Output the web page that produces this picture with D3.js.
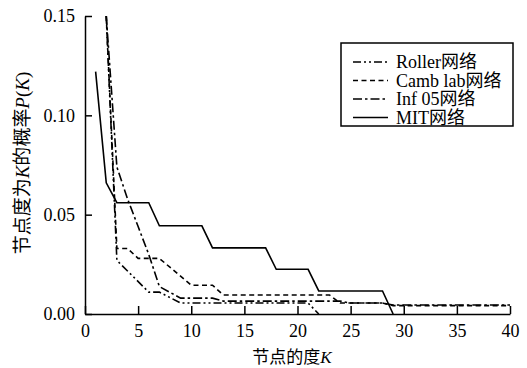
<!DOCTYPE html>
<html>
<head>
<meta charset="utf-8">
<script src="https://cdn.jsdelivr.net/npm/d3@7"></script>
<style>
  body { margin: 0; background: #fff; }
  svg { display: block; }
  text { font-family: 'Liberation Serif', 'Noto Sans CJK SC', serif; fill: #000; }
</style>
</head>
<body>
<div id="chart"></div>
<script>
// degree K and probability P(K) per network
const rollerK = [2, 3, 6, 7, 9, 21, 22];
const rollerP = [0.15, 0.027, 0.011, 0.011, 0.0055, 0.0055, 0];

const cambK = [2, 3, 4, 5, 7, 10, 12, 13, 23, 24, 28, 29, 40];
const cambP = [0.15, 0.033, 0.033, 0.028, 0.028, 0.0145, 0.0145, 0.0096, 0.0096, 0.0055, 0.0055, 0.0042, 0.0042];

const infK = [2, 3, 4, 5, 6, 7, 9, 12, 13, 24, 25, 28, 29, 40];
const infP = [0.15, 0.074, 0.058, 0.044, 0.03, 0.0138, 0.008, 0.008, 0.0065, 0.0065, 0.0055, 0.0055, 0.0045, 0.0045];

const mitK = [1, 2, 3, 6, 7, 11, 12, 17, 18, 21, 22, 28, 29];
const mitP = [0.122, 0.066, 0.056, 0.056, 0.0444, 0.0444, 0.0333, 0.0333, 0.0225, 0.0225, 0.0116, 0.0116, 0];

const seriesNames = ['Roller网络', 'Camb lab网络', 'Inf 05网络', 'MIT网络'];
const xTicks = [0, 5, 10, 15, 20, 25, 30, 35, 40];
const yTicks = [0, 0.05, 0.10, 0.15];

const width = 527, height = 368;
const margin = { left: 85, right: 17, top: 16, bottom: 54 };

const series = [
  { name: seriesNames[0], k: rollerK, p: rollerP, dash: '8,3,2,3,2,3' },
  { name: seriesNames[1], k: cambK, p: cambP, dash: '5,3.5' },
  { name: seriesNames[2], k: infK, p: infP, dash: '9,3,2.5,3' },
  { name: seriesNames[3], k: mitK, p: mitP, dash: null }
];

const x = d3.scaleLinear().domain([0, 40]).range([margin.left, width - margin.right]);
const y = d3.scaleLinear().domain([0, 0.15]).range([height - margin.bottom, margin.top]);

const svg = d3.select('#chart').append('svg')
  .attr('width', width)
  .attr('height', height);

// -- lines
const line = d3.line().x(d => x(d[0])).y(d => y(d[1]));
svg.append('g')
  .attr('fill', 'none')
  .attr('stroke', '#000')
  .attr('stroke-width', 1.6)
  .selectAll('path')
  .data(series)
  .join('path')
  .attr('stroke-dasharray', d => d.dash)
  .attr('d', d => line(d.k.map((k, i) => [k, d.p[i]])));

// -- axes, ticks point inward
const xAxis = svg.append('g')
  .attr('transform', `translate(0,${y(0)})`)
  .call(d3.axisBottom(x).tickValues(xTicks).tickSizeInner(-8).tickSizeOuter(0).tickPadding(11));
const yAxis = svg.append('g')
  .attr('transform', `translate(${x(0)},0)`)
  .call(d3.axisLeft(y).tickValues(yTicks).tickFormat(d3.format('.2f')).tickSizeInner(-7).tickSizeOuter(0).tickPadding(10));

[xAxis, yAxis].forEach(a => {
  a.select('.domain').attr('stroke-width', 1.5);
  a.selectAll('.tick line').attr('stroke-width', 1.5);
  a.selectAll('.tick text')
    .style('font-family', "'Liberation Serif', serif")
    .style('font-size', '18px');
});
xAxis.selectAll('.tick text').attr('dy', '0.66em');

// -- axis titles
svg.append('text')
  .attr('x', 292)
  .attr('y', 363)
  .attr('text-anchor', 'middle')
  .style('font-size', '17px')
  .html("<tspan style=\"font-family:'Noto Sans CJK SC'\">节点的度</tspan><tspan font-style=\"italic\">K</tspan>");

svg.append('text')
  .attr('transform', 'translate(29,163) rotate(-90)')
  .attr('text-anchor', 'middle')
  .style('font-size', '19px')
  .html("<tspan style=\"font-family:'Noto Sans CJK SC'\">节点度为</tspan><tspan font-style=\"italic\">K</tspan>"
    + "<tspan style=\"font-family:'Noto Sans CJK SC'\">的概率</tspan><tspan font-style=\"italic\">P</tspan>(<tspan font-style=\"italic\">K</tspan>)");

// -- legend
const legend = svg.append('g').attr('transform', 'translate(341,43)');
legend.append('rect')
  .attr('width', 172)
  .attr('height', 83)
  .attr('fill', '#fff')
  .attr('stroke', '#000')
  .attr('stroke-width', 1.5);

const rows = legend.selectAll('g')
  .data(series)
  .join('g')
  .attr('transform', (d, i) => `translate(0,${19 + i * 18.5})`);
rows.append('line')
  .attr('x1', 12).attr('x2', 47)
  .attr('stroke', '#000')
  .attr('stroke-width', 1.6)
  .attr('stroke-dasharray', d => d.dash);
rows.append('text')
  .attr('x', 55)
  .attr('dy', '0.35em')
  .style('font-size', '18px')
  .text(d => d.name);
</script>
</body>
</html>
